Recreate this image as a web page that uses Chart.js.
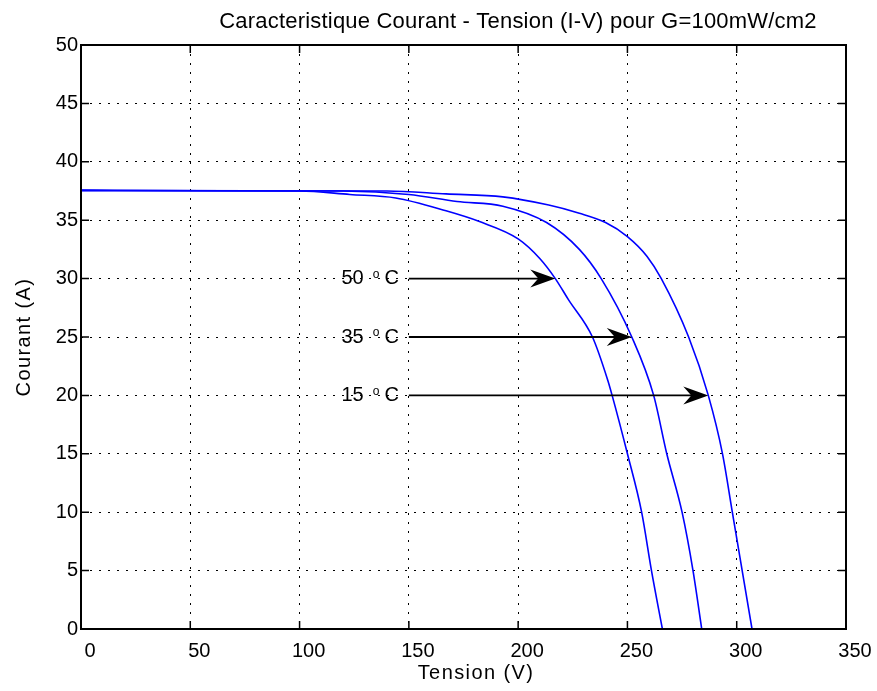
<!DOCTYPE html>
<html>
<head>
<meta charset="utf-8">
<script src="https://cdn.jsdelivr.net/npm/chart.js@4/dist/chart.umd.min.js"></script>
<style>
  html, body { margin: 0; padding: 0; background: #fff; }
</style>
</head>
<body>
<canvas id="ivChart" width="877" height="691"></canvas>
<script>
// I-V curves (tension in V, courant in A)
const tension15 = [0, 140, 167, 193, 214, 228, 240, 250, 259, 265.5, 278, 287, 293.5, 298, 302.5, 307];
const courant15 = [37.55, 37.5, 37.25, 37.0, 36.3, 35.6, 34.8, 33.6, 31.9, 30, 25, 20, 15, 10, 5, 0];

const tension35 = [0, 120, 150, 172, 193, 213, 228, 238, 252, 262, 268, 275, 280, 284];
const courant35 = [37.55, 37.5, 37.2, 36.6, 36.2, 34.8, 32.5, 30, 25, 20, 15, 10, 5, 0];

const tension50 = [0, 100, 123, 144, 167, 182, 200, 210, 217, 223, 234, 241, 243, 250, 256.5, 261, 266];
const courant50 = [37.55, 37.5, 37.2, 36.9, 35.8, 34.9, 33.4, 31.7, 30, 28.2, 25, 21.3, 20, 15, 10, 5, 0];

// temperature annotations with arrows
const arrowLabels = ['50', '35', '15'];
const arrowCourant = [30, 25, 20];
const arrowFromV = [150, 150, 150];
const arrowToV = [217, 252, 287];

const xTicks = [0, 50, 100, 150, 200, 250, 300, 350];
const yTicks = [0, 5, 10, 15, 20, 25, 30, 35, 40, 45, 50];

const FONT = '"Liberation Sans", Arial, Helvetica, sans-serif';

function toPoints(xs, ys) {
  return xs.map((v, i) => ({ x: v, y: ys[i] }));
}

const framePlugin = {
  id: 'frame',
  afterDatasetsDraw(chart) {
    const { ctx, chartArea: a, scales: { x, y } } = chart;
    ctx.save();

    // box
    ctx.strokeStyle = '#000';
    ctx.lineWidth = 2;
    ctx.strokeRect(a.left, a.top, a.right - a.left, a.bottom - a.top);

    // inward ticks on all four sides
    ctx.lineWidth = 1.5;
    ctx.beginPath();
    xTicks.forEach(v => {
      const px = x.getPixelForValue(v);
      ctx.moveTo(px, a.bottom); ctx.lineTo(px, a.bottom - 8);
      ctx.moveTo(px, a.top); ctx.lineTo(px, a.top + 8);
    });
    yTicks.forEach(v => {
      const py = y.getPixelForValue(v);
      ctx.moveTo(a.left, py); ctx.lineTo(a.left + 8, py);
      ctx.moveTo(a.right, py); ctx.lineTo(a.right - 8, py);
    });
    ctx.stroke();

    // arrows + labels
    ctx.fillStyle = '#000';
    arrowCourant.forEach((c, i) => {
      const py = y.getPixelForValue(c);
      const x0 = x.getPixelForValue(arrowFromV[i]);
      const x1 = x.getPixelForValue(arrowToV[i]);
      ctx.lineWidth = 1.8;
      ctx.beginPath();
      ctx.moveTo(x0, py);
      ctx.lineTo(x1 - 15, py);
      ctx.stroke();
      ctx.beginPath();
      ctx.moveTo(x1, py);
      ctx.lineTo(x1 - 25, py - 9);
      ctx.lineTo(x1 - 17, py);
      ctx.lineTo(x1 - 25, py + 9);
      ctx.closePath();
      ctx.fill();

      ctx.textAlign = 'right';
      ctx.textBaseline = 'middle';
      let tx = x0 - 10;
      ctx.font = '20px ' + FONT;
      ctx.fillText('C', tx, py);
      tx -= ctx.measureText('C').width + 5;
      ctx.font = '12px ' + FONT;
      ctx.fillText('o', tx, py - 4);
      tx -= ctx.measureText('o').width + 9;
      ctx.font = '20px ' + FONT;
      ctx.fillText(arrowLabels[i], tx, py);
    });

    // titles
    ctx.textAlign = 'center';
    ctx.textBaseline = 'middle';
    ctx.letterSpacing = '0.2px';
    ctx.font = '22px ' + FONT;
    ctx.fillText('Caracteristique Courant - Tension (I-V) pour G=100mW/cm2', 518, 22);
    ctx.letterSpacing = '1.4px';
    ctx.font = '20px ' + FONT;
    ctx.fillText('Tension (V)', 476, 673);
    ctx.save();
    ctx.translate(24, (a.top + a.bottom) / 2);
    ctx.rotate(-Math.PI / 2);
    ctx.fillText('Courant (A)', 0, 0);
    ctx.restore();
    ctx.letterSpacing = '0px';

    ctx.restore();
  }
};

const curveStyle = {
  borderColor: '#0000ff',
  borderWidth: 1.6,
  pointRadius: 0,
  fill: false,
  cubicInterpolationMode: 'monotone'
};

new Chart(document.getElementById('ivChart').getContext('2d'), {
  type: 'line',
  data: {
    datasets: [
      Object.assign({ label: '15 C', data: toPoints(tension15, courant15) }, curveStyle),
      Object.assign({ label: '35 C', data: toPoints(tension35, courant35) }, curveStyle),
      Object.assign({ label: '50 C', data: toPoints(tension50, courant50) }, curveStyle)
    ]
  },
  options: {
    responsive: false,
    animation: false,
    devicePixelRatio: 1,
    layout: { padding: { top: 45, right: 31, left: 0, bottom: 0 } },
    plugins: {
      legend: { display: false },
      tooltip: { enabled: false },
      title: { display: false }
    },
    scales: {
      x: {
        type: 'linear',
        min: 0,
        max: 350,
        afterBuildTicks: s => { s.ticks = xTicks.map(v => ({ value: v })); },
        afterFit: s => { s.height = 62; },
        grid: { color: '#000', lineWidth: 1, drawTicks: false },
        border: { display: false, dash: [2, 7] },
        ticks: {
          color: '#000',
          padding: 10,
          labelOffset: 9,
          maxRotation: 0,
          font: { family: FONT, size: 20 }
        }
      },
      y: {
        type: 'linear',
        min: 0,
        max: 50,
        afterBuildTicks: s => { s.ticks = yTicks.map(v => ({ value: v })); },
        afterFit: s => { s.width = 81; },
        grid: { color: '#000', lineWidth: 1, drawTicks: false },
        border: { display: false, dash: [2, 7] },
        ticks: {
          color: '#000',
          padding: 3,
          font: { family: FONT, size: 20 }
        }
      }
    }
  },
  plugins: [framePlugin]
});
</script>
</body>
</html>
